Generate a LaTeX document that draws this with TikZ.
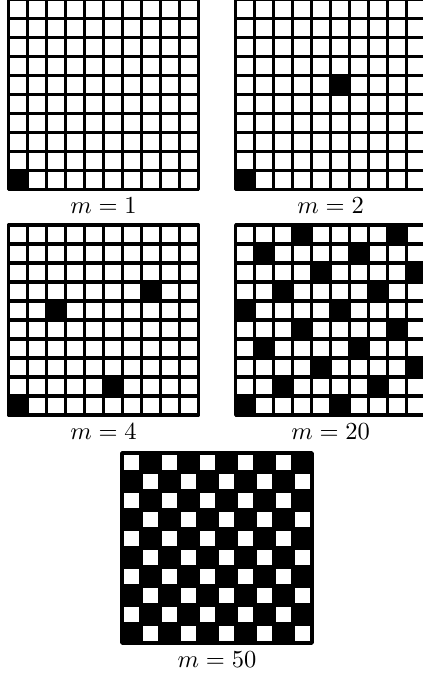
\documentclass[tikz,border=0pt]{standalone}
\usepackage{amsmath,amssymb}
\usepackage{tikz}
\usetikzlibrary{positioning,calc}

\begin{document}
\begin{tikzpicture}[x=7.76pt, y=7.76pt,
            board/.style={line width=1.25pt, line join=round},
            frame/.style={line width=1.4pt, line join=round},
            hit/.style={fill=black},
            caption/.style={below, inner sep=3.33pt}]

  \useasboundingbox (0,0) rectangle (22.26,35.47);

  % Board m=1
  \begin{scope}[shift={(0.45,25.5)}]
    \fill[hit] (0,0) rectangle ++(1,1);
    \draw[board] (0,0) grid[step=1] (10,10);
    \draw[frame] (0,0) rectangle (10,10);
    \node[caption] (capA) at (5,0) {$m=1$};
  \end{scope}

  % Board m=2
  \begin{scope}[shift={(12.4,25.5)}]
    \foreach \c/\r in {0/0, 5/5}
      \fill[hit] (\c,\r) rectangle ++(1,1);
    \draw[board] (0,0) grid[step=1] (10,10);
    \draw[frame] (0,0) rectangle (10,10);
    \node[caption] (capB) at (5,0) {$m=2$};
  \end{scope}

  % Board m=4
  \begin{scope}[shift={(0.45,13.63)}]
    \foreach \c/\r in {0/0, 5/1, 2/5, 7/6}
      \fill[hit] (\c,\r) rectangle ++(1,1);
    \draw[board] (0,0) grid[step=1] (10,10);
    \draw[frame] (0,0) rectangle (10,10);
    \node[caption] (capC) at (5,0) {$m=4$};
  \end{scope}

  % Board m=20
  \begin{scope}[shift={(12.4,13.63)}]
    \foreach \r in {0,...,9} {
      \pgfmathtruncatemacro\c{mod(2*\r,5)}
      \fill[hit] (\c,\r) rectangle ++(1,1);
      \fill[hit] (\c+5,\r) rectangle ++(1,1);
    }
    \draw[board] (0,0) grid[step=1] (10,10);
    \draw[frame] (0,0) rectangle (10,10);
    \node[caption] (capD) at (5,0) {$m=20$};
  \end{scope}

  % Board m=50
  \begin{scope}[shift={(6.42,1.63)}]
    \foreach \r in {0,...,9}
      \foreach \c in {0,2,...,8} {
        \pgfmathtruncatemacro\cc{\c+mod(\r,2)}
        \fill[hit] (\cc,\r) rectangle ++(1,1);
      }
    \draw[board] (0,0) grid[step=1] (10,10);
    \draw[frame] (0,0) rectangle (10,10);
    \node[caption] (capE) at (5,0) {$m=50$};
  \end{scope}
\end{tikzpicture}
\end{document}
